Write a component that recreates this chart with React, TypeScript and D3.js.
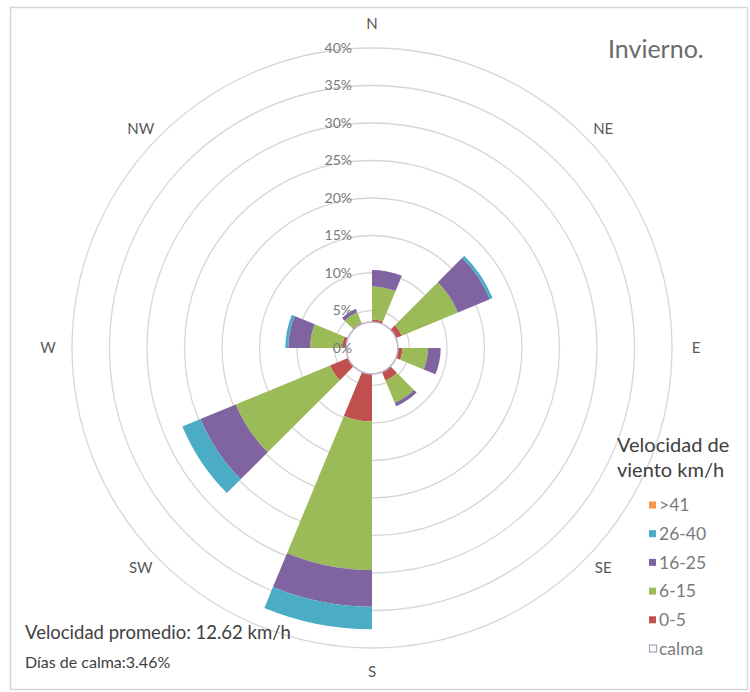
import React from "react";
import * as d3 from "d3";

const directions = ["N", "NNE", "NE", "ENE", "E", "ESE", "SE", "SSE", "S", "SSW", "SW", "WSW", "W", "WNW", "NW", "NNW"];
const compassLabels = ["N", "NE", "E", "SE", "S", "SW", "W", "NW"];
const speed0to5 = [0.35, 0, 0.85, 0, 0.6, 0, 1.25, 0, 6.35, 0, 2.6, 0, 0.5, 0, 0.2, 0];
const speed6to15 = [4.4, 0, 8.1, 0, 3.4, 0, 3.2, 0, 19.8, 0, 13.6, 0, 4.3, 0, 1.5, 0];
const speed16to25 = [2.2, 0, 4.6, 0, 1.7, 0, 0.5, 0, 4.9, 0, 5.1, 0, 2.9, 0, 0.5, 0];
const speed26to40 = [0, 0, 0.4, 0, 0, 0, 0, 0, 3.0, 0, 2.6, 0, 0.4, 0, 0, 0];
const speedOver41 = [0, 0, 0, 0, 0, 0, 0, 0, 0, 0, 0, 0, 0, 0, 0, 0];
const calmPct = 3.46;
const ringTicks = [5, 10, 15, 20, 25, 30, 35, 40];
const seriesNames = ["0-5", "6-15", "16-25", "26-40", ">41"];
const seriesColors = ["#C0504D", "#9BBB59", "#8064A2", "#4BACC6", "#F79646"];
const legendOrder = [">41", "26-40", "16-25", "6-15", "0-5"];

const W = 750;
const H = 692;
const cx = 372;
const cy = 348;
const FONT = "Lato, 'Open Sans', sans-serif";

export default function App() {
  const r = d3.scaleLinear().domain([0, 40]).range([0, 300]);
  const series = [speed0to5, speed6to15, speed16to25, speed26to40, speedOver41];
  const step = (2 * Math.PI) / directions.length;
  const arc = d3.arc();

  const wedges: { d: string; color: string; key: string }[] = [];
  directions.forEach((dir, i) => {
    let base = calmPct;
    series.forEach((s, k) => {
      const v = s[i];
      if (v > 0) {
        const d = arc({
          innerRadius: r(base),
          outerRadius: r(base + v),
          startAngle: i * step,
          endAngle: (i + 1) * step,
        } as any) as string;
        wedges.push({ d, color: seriesColors[k], key: dir + k });
      }
      base += v;
    });
  });

  return (
    <div style={{ position: "absolute", left: 0, top: 0 }}>
      <svg width={W} height={H} style={{ display: "block", fontFamily: FONT }}>
        <rect x={0} y={0} width={W} height={H} fill="#ffffff" />
        <rect x={10.5} y={7.5} width={737} height={682} fill="#ffffff" stroke="#d6d6d6" strokeWidth={1.5} />
        <g transform={`translate(${cx},${cy})`}>
          {ringTicks.map((t) => (
            <circle key={t} r={r(t)} fill="none" stroke="#d6d6d6" strokeWidth={1.3} />
          ))}
          {wedges.map((w) => (
            <path key={w.key} d={w.d} fill={w.color} />
          ))}
          <circle r={r(calmPct)} fill="#ffffff" stroke="#bdb3c6" strokeWidth={1.5} />
          {[0, ...ringTicks].map((t) => (
            <text
              key={"l" + t}
              x={-20}
              y={-r(t)}
              dy="0.35em"
              textAnchor="end"
              fontSize={14}
              fill="#7a7a7a"
            >
              {t}%
            </text>
          ))}
          {compassLabels.map((lab, i) => {
            const a = (i * Math.PI) / 4;
            const diag = i % 2 === 1;
            const rx = diag ? r(43.6) : r(43.2);
            const ry = diag ? r(41.4) : r(43.2);
            return (
              <text
                key={lab}
                x={rx * Math.sin(a)}
                y={-ry * Math.cos(a)}
                dy="0.35em"
                textAnchor="middle"
                fontSize={15}
                fill="#595959"
              >
                {lab}
              </text>
            );
          })}
        </g>
        <text x={608} y={58} fontSize={25} fill="#6b6b6b">Invierno.</text>
        <text x={617} y={452} fontSize={20} fill="#404040">Velocidad de</text>
        <text x={617} y={477} fontSize={20} fill="#404040">viento km/h</text>
        {legendOrder.map((name, j) => {
          const k = seriesNames.indexOf(name);
          const y = 505 + j * 28.7;
          return (
            <g key={name}>
              <rect x={649} y={y - 3.5} width={7} height={7} fill={seriesColors[k]} />
              <text x={659} y={y} dy="0.35em" fontSize={17.5} fill="#7a7a7a">{name}</text>
            </g>
          );
        })}
        <rect x={649.5} y={505 + 5 * 28.7 - 3.5} width={7} height={7} fill="#ffffff" stroke="#9fa6c4" strokeWidth={1.2} />
        <text x={659} y={505 + 5 * 28.7} dy="0.35em" fontSize={17.5} fill="#7a7a7a">calma</text>
        <text x={25} y={639} fontSize={18.5} fill="#404040">Velocidad promedio: 12.62 km/h</text>
        <text x={25} y={668} fontSize={16} fill="#404040">Días de calma:3.46%</text>
      </svg>
    </div>
  );
}
